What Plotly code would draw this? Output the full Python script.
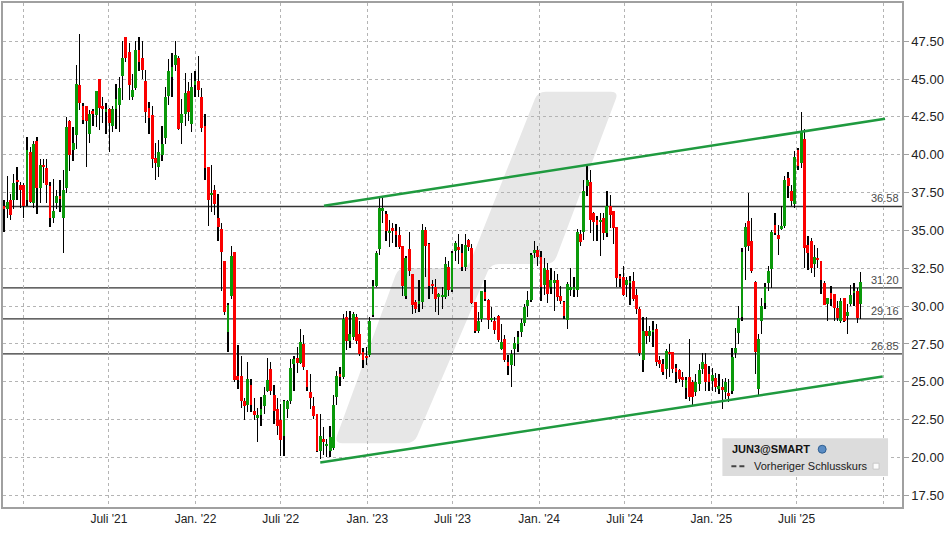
import plotly.graph_objects as go
import pandas as pd
import numpy as np

# Wochenkerzen JUN3@SMART, eine Kerze pro Woche ab der ersten Woche
first_week = "2020-11-20"

opens = [
    36.6, 36.4, 37.0, 37.0, 38.3, 38.0, 38.0, 37.0, 40.2, 36.8,
    40.9, 37.8, 39.3, 39.1, 37.9, 35.8, 36.8, 37.3, 35.8, 37.8,
    42.2, 40.3, 41.3, 44.6, 43.2, 43.2, 41.4, 42.9, 42.6, 45.0,
    43.2, 42.8, 43.0, 41.9, 43.0, 43.3, 45.2, 47.8, 46.8, 43.8,
    44.4, 46.9, 46.4, 44.9, 43.1, 42.6, 39.8, 39.2, 40.0, 41.1,
    43.9, 45.1, 45.9, 46.4, 42.1, 42.7, 44.2, 42.0, 44.6, 44.9,
    43.8, 41.9, 39.2, 37.4, 37.7, 35.8, 35.1, 33.0, 28.3, 30.7,
    33.6, 25.4, 25.4, 23.7, 23.45, 24.76, 23.1, 22.6, 22.8, 23.4,
    24.4, 25.85, 24.1, 23.2, 22.5, 21.4, 23.2, 23.7, 26.2, 26.55,
    26.25, 27.5, 25.75, 24.3, 23.4, 22.9, 20.4, 21.2, 20.75, 20.4,
    20.6, 24.0, 25.5, 25.3, 29.28, 27.7, 27.96, 29.3, 28.14, 26.97,
    26.7, 26.8, 29.4, 31.3, 33.77, 36.25, 36.07, 34.8, 35.13, 34.98,
    34.7, 33.99, 30.64, 33.77, 32.13, 30.26, 30.2, 30.26, 35.0, 34.1,
    31.47, 31.25, 30.6, 30.6, 30.6, 32.6, 31.07, 33.66, 33.93, 33.5,
    32.6, 34.36, 33.84, 30.26, 28.36, 29.17, 30.92, 30.37, 29.06, 29.0,
    29.36, 27.19, 27.85, 26.32, 26.1, 27.17, 27.5, 28.27, 28.86, 30.0,
    30.4, 33.53, 33.7, 33.25, 31.4, 32.37, 31.27, 31.55, 31.7, 30.64,
    30.24, 29.08, 31.05, 31.05, 31.05, 34.78, 34.9, 37.92, 38.18, 36.16,
    35.72, 35.57, 35.83, 34.85, 36.6, 36.27, 35.22, 32.0, 31.93, 31.38,
    31.56, 31.67, 30.75, 29.8, 26.45, 28.38, 28.05, 28.33, 28.49, 26.45,
    26.18, 25.86, 26.99, 26.95, 25.92, 25.75, 25.31, 24.6, 25.33, 24.96,
    24.3, 24.85, 25.83, 26.16, 25.5, 25.07, 25.24, 24.52, 24.63, 24.3,
    24.24, 24.36, 26.89, 28.25, 29.28, 33.88, 35.59, 34.28, 31.58, 24.5,
    29.01, 30.22, 31.54, 32.48, 35.37, 34.71, 35.15, 35.26, 38.49, 37.61,
    36.73, 40.31, 39.43, 41.01, 34.01, 34.32, 32.79, 33.18, 32.96, 31.54,
    30.11, 30.88, 30.77, 29.89, 29.01, 30.55, 29.34, 30.11, 30.88, 31.03,
    30.11,
]

highs = [
    37.0, 38.6, 37.4, 38.7, 39.2, 38.2, 38.1, 41.2, 40.5, 40.9,
    41.2, 39.7, 39.7, 39.7, 38.2, 38.4, 37.7, 38.3, 39.0, 42.5,
    42.3, 41.8, 45.9, 48.0, 43.4, 43.2, 42.96, 43.0, 44.2, 45.0,
    43.8, 43.4, 43.1, 43.2, 44.7, 45.15, 47.5, 47.8, 47.35, 45.3,
    47.5, 47.8, 47.5, 45.6, 43.5, 43.2, 40.8, 41.0, 41.9, 44.5,
    46.3, 46.7, 47.5, 46.5, 43.7, 45.4, 44.8, 45.4, 45.5, 46.5,
    44.4, 42.7, 39.2, 39.3, 38.0, 37.4, 35.5, 33.0, 30.2, 34.0,
    33.6, 27.4, 26.7, 23.9, 26.3, 25.2, 23.9, 23.3, 24.0, 24.65,
    26.55, 26.3, 24.8, 23.9, 23.55, 23.8, 23.8, 26.5, 26.7, 27.3,
    28.5, 28.1, 25.75, 25.5, 24.0, 22.9, 22.9, 22.0, 21.2, 22.1,
    24.1, 25.7, 25.95, 29.5, 29.7, 29.7, 29.6, 29.5, 29.0, 27.2,
    27.3, 29.3, 31.7, 33.66, 37.2, 37.28, 36.3, 35.68, 35.46, 35.4,
    35.2, 33.99, 33.33, 34.87, 32.13, 30.37, 31.7, 35.4, 35.2, 34.2,
    31.73, 31.8, 30.85, 31.25, 33.27, 33.0, 33.66, 34.32, 34.76, 34.1,
    34.76, 34.4, 34.1, 30.26, 29.6, 31.03, 31.73, 30.48, 29.94, 29.28,
    29.39, 28.8, 28.07, 26.75, 27.08, 27.94, 28.38, 29.14, 30.13, 31.0,
    33.53, 34.3, 33.97, 33.64, 33.16, 32.87, 32.54, 32.32, 32.1, 31.34,
    30.35, 31.56, 32.54, 31.89, 35.07, 35.0, 38.36, 39.23, 39.0, 36.2,
    35.94, 36.16, 36.16, 37.59, 37.37, 36.3, 35.25, 32.1, 32.65, 31.9,
    32.0, 32.28, 31.12, 29.91, 29.25, 29.25, 28.7, 29.0, 28.8, 26.73,
    26.51, 27.17, 27.5, 27.0, 26.18, 25.86, 25.64, 25.31, 27.8, 25.11,
    25.5, 26.16, 26.89, 26.89, 26.05, 25.94, 25.61, 25.5, 25.17, 25.28,
    25.17, 27.26, 28.57, 30.0, 33.84, 35.48, 37.46, 35.81, 31.64, 28.14,
    30.55, 31.54, 32.63, 35.04, 36.14, 35.37, 36.58, 38.62, 38.88, 38.0,
    40.24, 40.42, 42.83, 41.73, 34.61, 34.5, 34.06, 33.84, 33.0, 31.64,
    30.55, 31.32, 30.81, 30.33, 30.55, 30.55, 30.11, 31.38, 31.54, 31.21,
    32.24,
]

lows = [
    34.9, 35.8, 35.7, 36.4, 37.0, 36.5, 35.8, 36.6, 36.8, 36.5,
    36.1, 36.8, 38.1, 36.8, 35.2, 35.5, 36.4, 36.2, 33.5, 37.5,
    38.9, 39.6, 40.4, 42.96, 42.0, 39.2, 40.8, 41.9, 41.8, 41.6,
    42.1, 41.4, 40.2, 41.5, 41.7, 41.5, 43.6, 46.1, 43.6, 43.6,
    44.3, 45.5, 45.0, 42.1, 41.4, 39.1, 38.3, 38.5, 39.6, 40.7,
    43.3, 43.8, 45.5, 41.6, 40.7, 41.9, 42.2, 41.5, 43.8, 43.8,
    41.5, 38.3, 35.3, 36.2, 36.05, 34.3, 31.0, 29.4, 27.0, 30.5,
    25.0, 24.5, 23.3, 22.5, 23.0, 23.0, 22.5, 21.0, 22.1, 22.9,
    24.3, 24.1, 22.2, 21.5, 20.1, 20.1, 22.6, 23.55, 24.4, 25.6,
    26.2, 25.8, 24.4, 23.2, 22.55, 20.35, 19.9, 20.15, 20.05, 20.05,
    20.5, 23.45, 24.75, 25.2, 27.1, 27.2, 27.74, 27.5, 26.7, 25.9,
    26.1, 26.64, 29.3, 31.25, 33.4, 35.5, 34.3, 33.9, 34.14, 33.9,
    33.8, 30.7, 30.48, 32.0, 29.5, 29.54, 29.6, 29.8, 31.9, 30.5,
    30.8, 29.6, 29.4, 29.83, 30.5, 30.7, 30.92, 33.0, 32.8, 32.35,
    32.3, 33.66, 30.15, 28.2, 28.2, 28.95, 30.33, 28.5, 28.95, 28.18,
    27.63, 27.13, 26.32, 25.48, 24.63, 26.07, 26.95, 27.94, 28.7, 29.25,
    30.3, 33.2, 32.65, 30.35, 30.75, 30.18, 30.8, 29.7, 30.35, 30.13,
    29.14, 28.49, 30.68, 30.57, 30.57, 33.97, 34.34, 37.26, 34.85, 34.3,
    34.3, 33.3, 34.34, 34.56, 35.18, 34.08, 31.23, 31.23, 30.68, 30.57,
    30.09, 30.35, 29.47, 26.73, 25.64, 27.5, 27.6, 27.28, 26.07, 25.92,
    25.48, 25.2, 25.31, 25.58, 24.9, 24.97, 24.65, 23.88, 23.75, 23.42,
    24.08, 24.41, 25.5, 24.41, 24.41, 24.41, 24.3, 24.19, 23.2, 23.86,
    23.64, 24.19, 26.6, 27.48, 29.01, 31.75, 33.62, 32.19, 25.5, 24.08,
    28.14, 29.78, 30.99, 31.2, 34.71, 33.4, 35.04, 35.15, 37.13, 36.58,
    36.51, 38.99, 39.1, 32.52, 32.41, 32.19, 31.91, 32.52, 30.81, 30.07,
    29.01, 30.0, 29.01, 29.01, 28.9, 28.97, 28.18, 29.98, 30.0, 28.9,
    29.12,
]

closes = [
    36.4, 36.9, 36.0, 38.1, 38.2, 37.7, 36.6, 40.3, 36.9, 40.7,
    37.8, 39.3, 39.2, 38.0, 35.8, 36.3, 37.3, 37.1, 37.7, 41.8,
    40.0, 40.8, 44.7, 43.4, 42.3, 42.2, 42.7, 42.7, 44.2, 43.1,
    43.0, 43.0, 42.1, 43.0, 43.7, 44.4, 46.4, 46.4, 44.6, 44.3,
    46.9, 46.1, 45.6, 42.8, 42.4, 39.7, 39.45, 40.2, 40.7, 43.8,
    45.5, 45.8, 46.6, 41.7, 42.7, 44.1, 42.85, 44.5, 44.9, 44.3,
    41.75, 39.1, 37.0, 37.5, 36.75, 35.2, 33.6, 29.6, 30.1, 33.3,
    25.1, 25.1, 23.7, 23.4, 25.2, 23.5, 22.8, 22.8, 23.2, 24.15,
    25.15, 24.4, 23.1, 22.1, 21.15, 23.7, 23.7, 25.9, 26.5, 26.25,
    27.6, 26.0, 24.65, 23.9, 22.75, 20.4, 21.45, 21.0, 20.9, 21.35,
    23.45, 25.4, 25.3, 29.15, 27.7, 28.14, 29.45, 27.7, 26.86, 26.47,
    26.56, 29.0, 31.36, 33.5, 36.5, 36.45, 34.93, 34.97, 34.98, 34.7,
    33.88, 31.3, 33.18, 32.3, 30.04, 29.8, 30.33, 35.0, 33.99, 31.3,
    31.34, 30.48, 30.8, 30.74, 32.8, 31.07, 33.53, 34.2, 33.7, 32.6,
    34.06, 33.88, 30.2, 28.36, 29.0, 30.99, 30.48, 29.1, 29.23, 28.44,
    27.74, 27.63, 26.43, 26.03, 26.86, 27.54, 27.98, 28.86, 29.96, 30.4,
    33.38, 33.7, 33.25, 31.27, 32.5, 30.83, 31.7, 31.7, 30.57, 30.35,
    29.32, 31.45, 31.23, 31.23, 34.9, 34.25, 37.63, 38.3, 35.72, 35.57,
    35.35, 35.72, 34.85, 36.6, 36.0, 35.13, 31.84, 31.78, 30.75, 31.7,
    31.67, 30.46, 29.8, 26.89, 28.33, 28.05, 28.33, 28.42, 26.3, 26.18,
    25.64, 27.06, 26.89, 25.86, 25.64, 25.2, 25.13, 25.13, 24.0, 23.97,
    24.96, 25.77, 26.34, 24.96, 24.96, 25.46, 24.67, 24.74, 24.52, 24.96,
    24.08, 26.64, 27.21, 29.19, 33.57, 35.2, 33.95, 32.35, 26.99, 27.85,
    30.0, 31.25, 32.3, 34.87, 34.82, 34.43, 35.26, 38.33, 37.96, 36.97,
    39.87, 39.28, 41.51, 33.84, 33.51, 32.52, 33.22, 33.07, 31.71, 30.07,
    30.55, 30.5, 29.89, 29.19, 30.33, 29.01, 29.63, 30.72, 31.03, 29.23,
    31.58,
]

# Horizontale Marken mit Beschriftung
levels = [36.58, 31.20, 29.16, 26.85]

# Trendkanal
upper_trend_dates = ["2022-10-01", "2026-01-05"]
upper_trend_values = [36.63, 42.37]
lower_trend_dates = ["2022-09-23", "2025-12-31"]
lower_trend_values = [19.67, 25.35]

x_tick_dates = ["2021-01-01", "2021-07-01", "2022-01-01", "2022-07-01",
                "2023-01-01", "2023-07-01", "2024-01-01", "2024-07-01",
                "2025-01-01", "2025-07-01", "2026-01-01"]
x_tick_labels = ["", "Juli '21", "Jan. '22", "Juli '22", "Jan. '23", "Juli '23",
                 "Jan. '24", "Juli '24", "Jan. '25", "Juli '25", ""]
y_ticks = [17.5, 20.0, 22.5, 25.0, 27.5, 30.0, 32.5, 35.0,
           37.5, 40.0, 42.5, 45.0, 47.5]

GREEN = '#0a990a'
RED = '#fa0000'
TREND = '#1f9a3f'
GRID = '#b4b4b4'
AXIS = '#a0a0a0'
DAY = 86400000

dates = pd.date_range(first_week, periods=len(opens), freq="7D")
o = np.array(opens)
h = np.array(highs)
l = np.array(lows)
c = np.array(closes)
body_colors = np.where(c >= o, GREEN, RED)

# Plotbereich in Pixeln (fuer Logo und Legende)
PX0, PW = 1, 901
PY1, PH = 507, 506


def paper(px, py):
    return (px - PX0) / PW, (PY1 - py) / PH


def rounded_path(points, r):
    """Polygon mit abgerundeten Ecken als SVG-Pfad in Paper-Koordinaten"""
    pts = np.array(points, dtype=float)
    n = len(pts)
    parts = []
    for i in range(n):
        v = pts[i]
        prev_pt = pts[i - 1]
        next_pt = pts[(i + 1) % n]
        a = v + r * (prev_pt - v) / np.linalg.norm(prev_pt - v)
        b = v + r * (next_pt - v) / np.linalg.norm(next_pt - v)
        ax, ay = paper(*a)
        vx, vy = paper(*v)
        bx, by = paper(*b)
        parts.append(("M" if i == 0 else "L") + f"{ax:.5f},{ay:.5f}")
        parts.append(f"Q{vx:.5f},{vy:.5f} {bx:.5f},{by:.5f}")
    return " ".join(parts) + " Z"


fig = go.Figure()

# Dochte
fig.add_trace(go.Bar(
    x=dates, y=h - l, base=l, width=0.6 * DAY,
    marker=dict(color='#000000', line_width=0),
    hoverinfo='skip'
))

# Kerzenkoerper
fig.add_trace(go.Bar(
    x=dates, y=np.abs(c - o), base=np.minimum(o, c), width=6 * DAY,
    marker=dict(color=body_colors, line_width=0),
    customdata=np.stack([o, h, l, c], axis=1),
    hovertemplate="O %{customdata[0]:.2f}<br>H %{customdata[1]:.2f}<br>"
                  "L %{customdata[2]:.2f}<br>C %{customdata[3]:.2f}<extra></extra>"
))

fig.add_trace(go.Scatter(
    x=upper_trend_dates, y=upper_trend_values, mode='lines',
    line=dict(color=TREND, width=2.5), hoverinfo='skip'
))
fig.add_trace(go.Scatter(
    x=lower_trend_dates, y=lower_trend_values, mode='lines',
    line=dict(color=TREND, width=2.5), hoverinfo='skip'
))

# Logo im Hintergrund
logo = [(537, 90), (618, 90), (553, 263), (490, 263), (413, 443),
        (333, 443), (397, 267), (467, 267)]
fig.add_shape(type='path', path=rounded_path(logo, 8), xref='paper', yref='paper',
              fillcolor='#e7e7e7', line_width=0, layer='below')

for v in levels:
    fig.add_hline(y=v, line_color='#333333', line_width=1.3, layer='below')
    fig.add_annotation(x=1, xref='paper', y=v, yref='y', text=f"{v:.2f}",
                       xanchor='right', yanchor='bottom', xshift=-1, showarrow=False,
                       font=dict(size=11, color='#4a4a4a'))

# Legende
x0, y0 = paper(722, 476)
x1, y1 = paper(888, 438)
fig.add_shape(type='rect', xref='paper', yref='paper', x0=x0, y0=y0, x1=x1, y1=y1,
              fillcolor='#dcdcdc', line_width=0, layer='above')
tx, ty = paper(730, 449)
fig.add_annotation(x=tx, y=ty, xref='paper', yref='paper', text="<b>JUN3@SMART</b>",
                   xanchor='left', yanchor='middle', showarrow=False,
                   font=dict(size=11, color='#111111'))
gx0, gy0 = paper(818, 453)
gx1, gy1 = paper(826, 445)
fig.add_shape(type='circle', xref='paper', yref='paper', x0=gx0, y0=gy0, x1=gx1, y1=gy1,
              fillcolor='#5a8cc4', line=dict(color='#2f5f92', width=1), layer='above')
dx0, dy = paper(731, 466)
dx1, _ = paper(747, 466)
fig.add_shape(type='line', xref='paper', yref='paper', x0=dx0, y0=dy, x1=dx1, y1=dy,
              line=dict(color='#444444', width=2, dash='5px,3px'), layer='above')
vx, vy = paper(752, 466)
fig.add_annotation(x=vx, y=vy, xref='paper', yref='paper', text="Vorheriger Schlusskurs",
                   xanchor='left', yanchor='middle', showarrow=False,
                   font=dict(size=11, color='#222222'))
sx0, sy0 = paper(873, 469)
sx1, sy1 = paper(879, 463)
fig.add_shape(type='rect', xref='paper', yref='paper', x0=sx0, y0=sy0, x1=sx1, y1=sy1,
              fillcolor='#fbfbfb', line=dict(color='#c8c8c8', width=1), layer='above')

fig.update_layout(
    width=948, height=534,
    margin=dict(l=1, r=46, t=1, b=27),
    paper_bgcolor='white', plot_bgcolor='white',
    barmode='overlay', bargap=0, bargroupgap=0,
    showlegend=False,
    font=dict(family='Liberation Sans, Arial, sans-serif', color='#222222'),
    xaxis=dict(
        type='date', range=['2020-11-18', '2026-02-10'],
        tickvals=x_tick_dates, ticktext=x_tick_labels,
        showgrid=True, gridcolor=GRID, griddash='3px,3px', gridwidth=1,
        showline=True, linecolor=AXIS, linewidth=1.5, mirror=True,
        ticks='', tickfont=dict(size=12), zeroline=False
    ),
    yaxis=dict(
        side='right', range=[16.73, 50.02],
        tickvals=y_ticks, tickformat='.2f',
        showgrid=True, gridcolor=GRID, griddash='3px,3px', gridwidth=1,
        showline=True, linecolor=AXIS, linewidth=1.5, mirror=True,
        ticks='outside', ticklen=5, tickcolor=AXIS,
        tickfont=dict(size=13), zeroline=False
    )
)

# Browser-Standardrand entfernen, damit die Figur genau ins Fenster passt
fig.write_html("out.html", config={'displayModeBar': False},
               post_script="document.body.style.margin='0';")
